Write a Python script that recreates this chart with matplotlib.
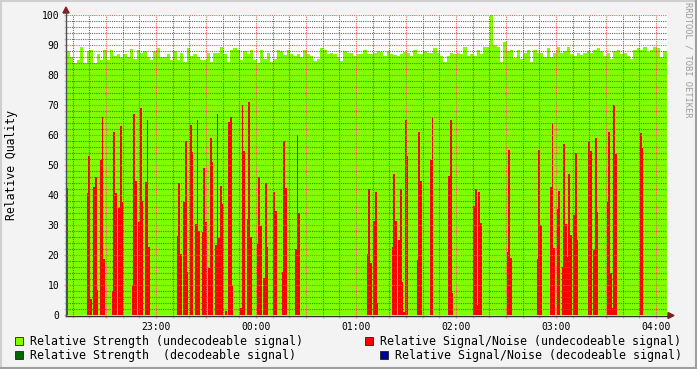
import numpy as np
import matplotlib
matplotlib.use('Agg')
import matplotlib.pyplot as plt
from matplotlib.lines import Line2D
from matplotlib.patches import Polygon, Rectangle

plt.rcParams['font.family'] = 'DejaVu Sans Mono'

# time axis in minutes after 22:00, graph starts at 22:06:18
t_start = 6.3
green_step = 2.0

# relative strength (undecodeable signal), one value per 2 minutes
strength_undec = [
    88, 86, 84, 85, 89.5, 84, 88, 88.5, 84, 87, 85, 88.5, 85, 88.5, 86.5,
    87, 86, 87, 86, 88.8, 85.5, 88.5, 87.5, 88, 86, 85, 88, 89, 86, 86,
    87, 85, 88, 85, 87.5, 84.5, 89, 86.5, 87, 86, 85.2, 85, 87.5, 84.5, 87.5,
    87.5, 89.5, 87, 84.5, 88.5, 89, 88.5, 85, 88, 87, 88.5, 85, 84.2, 88.5, 85.5,
    87.5, 84.5, 85.5, 88.5, 88, 86.8, 88.5, 87, 86.5, 87, 86, 88.5, 87, 86.5, 84.8,
    85.5, 89, 88.5, 87, 87.5, 87, 86, 84.8, 88, 87.5, 87.5, 86.5, 87, 87, 88.5,
    87, 87, 87.5, 88, 87.8, 86.5, 88, 87, 86.8, 86.5, 87, 87.8, 87.5, 86.5, 88.5,
    87, 87, 88, 87.3, 87.3, 89, 87.5, 86.5, 84.5, 86.5, 87.5, 87, 87.5, 87, 89.5,
    86.3, 87, 86.5, 88.5, 87, 89.5, 89.5, 100, 90, 89.5, 84.5, 91.2, 88.2, 88.5, 85.8,
    88.5, 85.5, 87.5, 88.5, 84.5, 88.5, 87.5, 87.6, 86, 89, 86, 87.5, 89.5, 87.5, 88,
    89.5, 87.2, 86.5, 87.5, 86.8, 87.5, 88, 87.5, 88.5, 89, 88, 86.5, 87.5, 85.5, 88,
    88.5, 87, 87.5, 86.5, 85.5, 88.5, 89, 88.5, 89.5, 87.8, 88.5, 89.5, 89, 86, 88]

# relative signal/noise (undecodeable signal): minute after start, value
snr_minute = [
    0, 12, 13, 14, 16, 17, 18, 20, 21, 22, 27, 28, 29, 31, 32, 33, 39, 40, 41,
    43, 44, 45, 47, 48, 49,
    66, 67, 68, 70, 71, 72, 74, 75, 77, 78, 79, 81, 82, 83, 85, 86, 87, 89, 90,
    91, 92, 93, 95, 97, 98, 99, 104, 105, 106, 108, 109, 110, 114, 115, 116,
    118, 119,
    120, 124, 125, 129, 130, 131, 137, 138, 139,
    180, 181, 182, 184, 185, 186, 195, 196, 197, 199, 200, 201, 202, 203, 204,
    210, 211, 212, 218, 219, 229, 230, 231,
    244, 245, 246, 247, 248, 264, 265, 266, 282, 283, 284, 290, 291, 292, 294,
    295, 297, 298, 299,
    300, 301, 302, 304, 305, 306, 313, 314, 316, 317, 318, 324, 325, 326, 327,
    328, 329, 344, 345]
snr_undec = [
    42.4, 40.7, 53.1, 5.4, 42.7, 46.2, 8.5, 51.8, 66.2, 18.7, 8.1, 61.1, 40.9,
    35.7, 63.1, 37.9, 10.1, 67.1, 44.8, 31.1, 69.1, 38.1, 44.5, 65.1, 22.7,
    26.5, 44.2, 20.5, 37.9, 58.1, 14.6, 63.5, 54.5, 30.5, 65.1, 28.1, 27.9, 49.1,
    31.1, 15.9, 59.1, 51.1, 23.5, 67.1, 25.9, 43.1, 37.0, 1.5, 64.6, 66.1, 9.8,
    2.6, 70.1, 54.8, 32.1, 71.1, 26.0, 23.8, 46.2, 29.8, 12.4, 44.1,
    22.9, 41.2, 34.8, 14.6, 58.1, 42.5, 22.2, 60.1, 34.2,
    20.5, 42.1, 17.4, 31.6, 41.1, 4.0, 22.7, 47.1, 31.5, 25.1, 42.1, 11.1, 1.2,
    65.1, 53.1, 18.5, 61.1, 44.8, 51.8, 66.1, 46.5, 65.1, 7.6,
    36.5, 42.1, 3.5, 41.1, 30.9, 21.2, 55.1, 19.2, 18.7, 55.1, 30.1, 42.9, 64.2,
    22.6, 35.4, 41.5, 16.2, 57.1, 30.5,
    19.6, 47.1, 26.8, 33.5, 54.0, 25.1, 57.9, 54.8, 21.8, 59.1, 34.5, 37.8, 61.1,
    14.0, 2.6, 70.1, 53.8, 60.7, 55.8]

hour_ticks = [60, 120, 180, 240, 300, 360]
hour_labels = ['23:00', '00:00', '01:00', '02:00', '03:00', '04:00']

legend_labels = ['Relative Strength (undecodeable signal)',
                 'Relative Signal/Noise (undecodeable signal)',
                 'Relative Strength  (decodeable signal)',
                 'Relative Signal/Noise (decodeable signal)']
legend_colors = ['#7fff00', '#ff0000', '#006600', '#00009c']

W, H = 697.0, 369.0
def fx(px):
    return px / W
def fy(py):
    return 1 - py / H

fig = plt.figure(figsize=(6.97, 3.69), dpi=100, facecolor='#f3f3f3')
ax = fig.add_axes([fx(66.5), fy(315.3), 600 / W, 300 / H])
ax.set_facecolor('white')

# green area as one step polygon
g_edges = t_start + green_step * np.arange(len(strength_undec) + 1)
ax.stairs(strength_undec, g_edges, fill=True, baseline=0, color=legend_colors[0],
          antialiased=False, zorder=1)

# red area on a one minute grid (zero where nothing was received)
red_full = np.zeros(360)
red_full[snr_minute] = snr_undec
r_edges = t_start + np.arange(361)
ax.stairs(red_full, r_edges, fill=True, baseline=0, color=legend_colors[1],
          antialiased=False, zorder=1.2)

ax.set_xlim(t_start, t_start + 360)
ax.set_ylim(0, 100)

# grid on top of the areas like rrdtool, faint dots
ax.set_axisbelow(False)
major_x = np.arange(30, 361, 30)
lab = dict(zip(hour_ticks, hour_labels))
ax.set_xticks(major_x)
ax.set_xticklabels([lab.get(int(t), '') for t in major_x])
ax.set_xticks(np.arange(10, 366, 10), minor=True)
ax.set_yticks(np.arange(0, 101, 10))
ax.set_yticks(np.arange(0, 101, 2), minor=True)
ax.grid(which='major', color=(1, 0.35, 0.35, 0.22), linestyle=(0, (1, 1)), linewidth=0.8)
ax.grid(which='minor', color=(0.4, 0.4, 0.4, 0.07), linestyle=(0, (1, 1)), linewidth=0.8)
ax.tick_params(which='major', length=2, width=1, color=(1, 0.37, 0.37, 0.6),
               labelsize=7, pad=3, labelcolor='black')
ax.tick_params(which='minor', length=2, width=1, color=(0.6, 0.6, 0.6, 0.5))
for s in ax.spines.values():
    s.set_visible(False)

# axes with arrows
fig.add_artist(Line2D([fx(66), fx(669)], [fy(315.5), fy(315.5)], color='#303030', lw=1))
fig.add_artist(Line2D([fx(66), fx(66)], [fy(315.5), fy(11)], color='#505050', lw=1))
fig.add_artist(Polygon([[fx(668), fy(312.5)], [fx(674), fy(315.5)], [fx(668), fy(318.5)]],
                       closed=True, transform=fig.transFigure, color='#8c1c1c'))
fig.add_artist(Polygon([[fx(63), fy(13)], [fx(66), fy(7)], [fx(69), fy(13)]],
                       closed=True, transform=fig.transFigure, color='#8c1c1c'))

fig.text(fx(12), fy(165), 'Relative Quality', rotation=90, fontsize=8.3,
         ha='center', va='center')
fig.text(fx(688), fy(60), 'RRDTOOL / TOBI OETIKER', rotation=270, fontsize=6.3,
         ha='center', va='center', color='#9a9a9a')

# legend
box_x = [15, 365, 15, 380]
row_y = [341, 341, 355, 355]
for lbl, col, bx, ry in zip(legend_labels, legend_colors, box_x, row_y):
    fig.add_artist(Rectangle((fx(bx), fy(ry + 4)), 8 / W, 8 / H, transform=fig.transFigure,
                             facecolor=col, edgecolor='#202020', lw=0.6))
    fig.text(fx(bx + 15), fy(ry), lbl, fontsize=8.4, ha='left', va='center')

# frame of the image
fig.add_artist(Line2D([0, 1], [fy(0.5), fy(0.5)], color='#cfcfcf', lw=1.5))
fig.add_artist(Line2D([fx(0.5), fx(0.5)], [0, 1], color='#cfcfcf', lw=1.5))
fig.add_artist(Line2D([0, 1], [fy(368), fy(368)], color='#9e9e9e', lw=1.5))
fig.add_artist(Line2D([fx(696), fx(696)], [0, 1], color='#9e9e9e', lw=1.5))

fig.savefig('out.png', dpi=100, facecolor=fig.get_facecolor())
